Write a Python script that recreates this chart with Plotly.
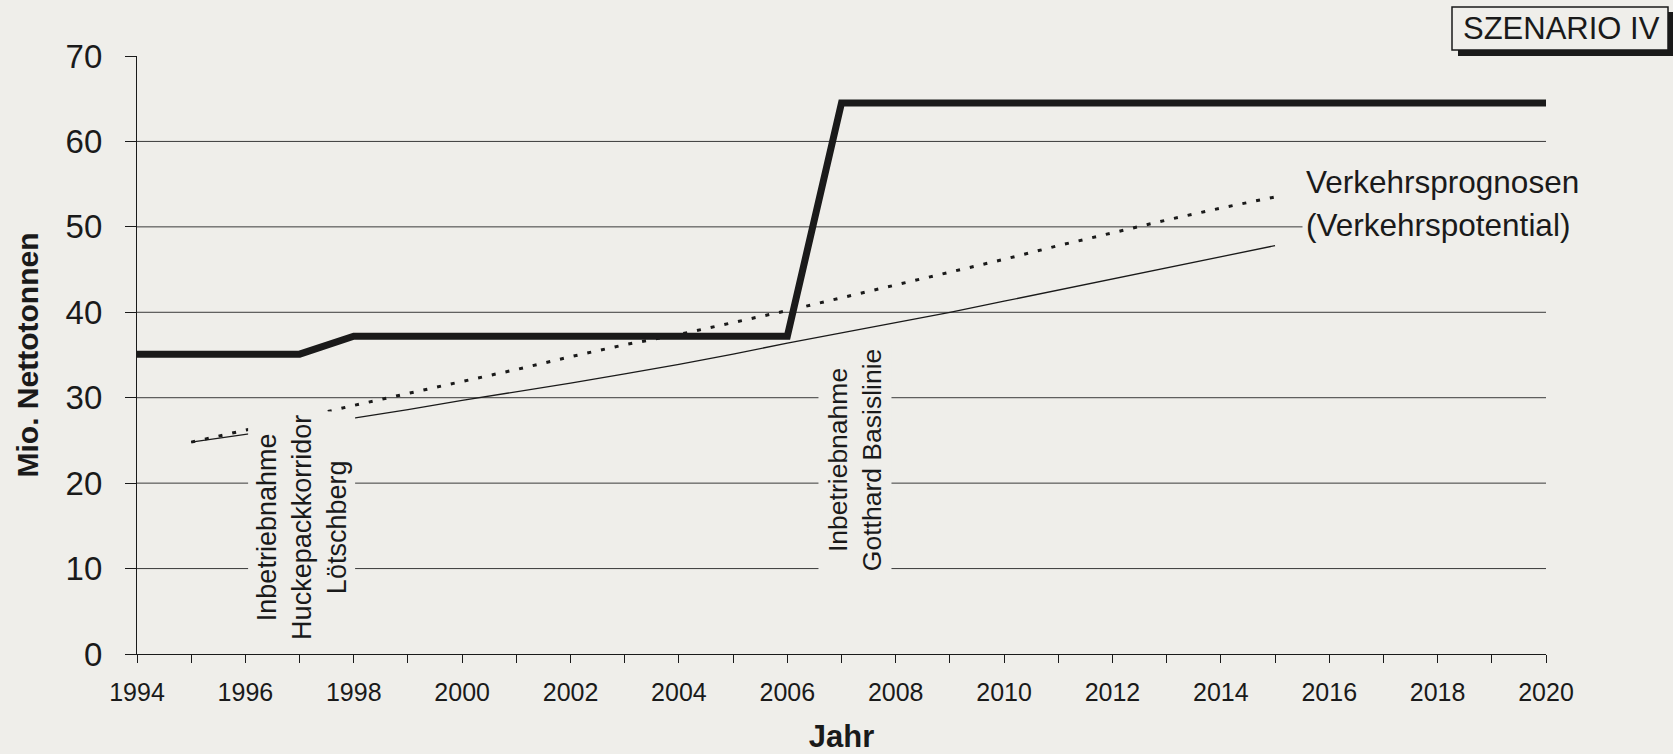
import plotly.graph_objects as go

# ---- data ----
years_szenario = [1994, 1997, 1998, 2006, 2007, 2020]
kapazitaet = [35.1, 35.1, 37.2, 37.2, 64.5, 64.5]

years_prognose = list(range(1995, 2016))
prognose = [24.8, 26.2, 27.6, 29.1, 30.5, 31.9, 33.3, 34.8, 36.2, 37.4, 38.8,
            40.2, 41.7, 43.2, 44.7, 46.2, 47.8, 49.3, 50.8, 52.2, 53.5]
potential = [24.8, 25.7, 26.6, 27.6, 28.6, 29.7, 30.7, 31.7, 32.8, 33.9, 35.1,
             36.4, 37.6, 38.8, 40.0, 41.3, 42.6, 43.9, 45.2, 46.5, 47.8]

year_ticks = list(range(1994, 2021))
year_labels = [str(y) if y % 2 == 0 else "" for y in year_ticks]
y_ticks = [0, 10, 20, 30, 40, 50, 60, 70]
grid_values = [10, 20, 30, 40, 50, 60]

PAPER = "#efeeea"
INK = "#1a1a1a"
FONT = "Arial, Liberation Sans, sans-serif"

fig = go.Figure()

fig.add_trace(go.Scatter(x=years_prognose, y=potential, mode="lines",
                         line=dict(color=INK, width=1.3), showlegend=False))
fig.add_trace(go.Scatter(x=years_prognose, y=prognose, mode="lines",
                         line=dict(color=INK, width=3, dash="4px,10px"),
                         showlegend=False))
fig.add_trace(go.Scatter(x=years_szenario, y=kapazitaet, mode="lines",
                         line=dict(color=INK, width=7), showlegend=False))

# gridlines (no line at 70 in the original)
for g in grid_values:
    fig.add_shape(type="line", xref="paper", x0=0, x1=1, yref="y", y0=g, y1=g,
                  line=dict(color="#3a3a3a", width=1), layer="below")

# labels on the chart, with paper-coloured background hiding lines behind them
fig.add_annotation(x=1997.04, y=14.85, text="Inbetriebnahme<br>Huckepackkorridor<br>Lötschberg",
                   textangle=-90, showarrow=False, bgcolor=PAPER, borderpad=3,
                   font=dict(family=FONT, size=27, color=INK))
fig.add_annotation(x=2007.25, y=22.7, text="Inbetriebnahme<br>Gotthard Basislinie",
                   textangle=-90, showarrow=False, bgcolor=PAPER, borderpad=4,
                   font=dict(family=FONT, size=26.5, color=INK))
fig.add_annotation(x=2015.5, y=55.2, text="Verkehrsprognosen", xanchor="left",
                   showarrow=False, bgcolor=PAPER, borderpad=3,
                   font=dict(family=FONT, size=31.5, color=INK))
fig.add_annotation(x=2015.5, y=50.2, text="(Verkehrspotential)", xanchor="left",
                   showarrow=False, bgcolor=PAPER, borderpad=3,
                   font=dict(family=FONT, size=31.5, color=INK))

# SZENARIO IV box with shadow
def px_x(p):
    return (p - 137) / 1409.0

def px_y(p):
    return (654 - p) / 598.0

fig.add_shape(type="rect", xref="paper", yref="paper",
              x0=px_x(1458), x1=px_x(1674), y0=px_y(56), y1=px_y(12),
              fillcolor=INK, line=dict(width=0), layer="above")
fig.add_shape(type="rect", xref="paper", yref="paper",
              x0=px_x(1452), x1=px_x(1668), y0=px_y(50), y1=px_y(7),
              fillcolor=PAPER, line=dict(color=INK, width=1.5), layer="above")
fig.add_annotation(xref="paper", yref="paper", x=px_x(1561), y=px_y(28.5),
                   xanchor="center", yanchor="middle",
                   text="SZENARIO IV", showarrow=False,
                   font=dict(family=FONT, size=31, color=INK))

fig.update_layout(
    width=1673, height=754,
    margin=dict(l=137, r=127, t=56, b=100),
    paper_bgcolor=PAPER, plot_bgcolor=PAPER,
    font=dict(family=FONT, color=INK),
    showlegend=False,
)

fig.update_xaxes(
    range=[1994, 2020], tickmode="array", tickvals=year_ticks, ticktext=year_labels,
    ticks="outside", ticklen=8, tickwidth=1.2, tickcolor=INK, automargin=False,
    showline=True, linecolor=INK, linewidth=1.3, showgrid=False, zeroline=False,
    tickfont=dict(family=FONT, size=25, color=INK), ticklabelstandoff=8,
    title=dict(text="<b>Jahr</b>", font=dict(family=FONT, size=31, color=INK), standoff=22),
)
fig.update_yaxes(
    range=[0, 70], tickmode="array", tickvals=y_ticks,
    ticks="outside", ticklen=11, tickwidth=1.2, tickcolor=INK, automargin=False,
    showline=True, linecolor=INK, linewidth=1.3, showgrid=False, zeroline=False,
    tickfont=dict(family=FONT, size=33, color=INK), ticklabelstandoff=16,
    title=dict(text="<b>Mio. Nettotonnen</b>", font=dict(family=FONT, size=30, color=INK), standoff=18),
)

# drop the default page margin so the figure sits at the window's corner
fig.write_html("out.html", config={"displayModeBar": False},
               post_script="document.body.style.margin='0';"
               "document.body.style.background='" + PAPER + "';")
